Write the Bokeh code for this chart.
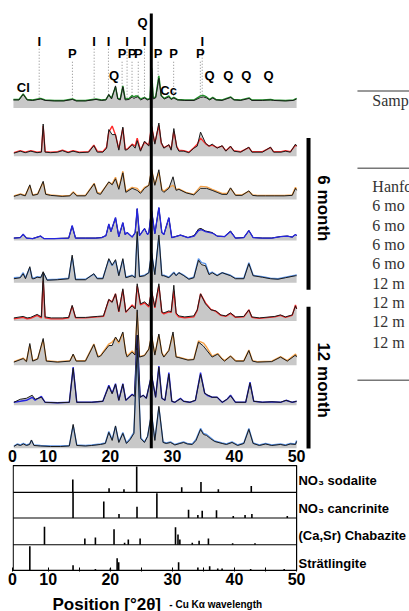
import math
from bokeh.plotting import figure
from bokeh.layouts import column
from bokeh.models import Range1d, LinearAxis, FixedTicker
from bokeh.core.properties import value
from bokeh.embed import file_html
from bokeh.resources import INLINE

# ---------------- data ----------------
X_START, X_END = 4.25, 68.18
TICKS = [4.25, 10, 20, 30, 40, 50]
TICK_LABELS = {4.25: "0"}
MINOR = [15, 25, 35, 45]

OFFSETS = [348, 300, 257, 216, 174, 136, 92, 52, 9]
COLORS = ["#22922a", "#ff2a2a", "#f3a14a", "#2525e0", "#5b93e6", "#ff2a2a", "#f3a14a", "#2525e0", "#5b93e6"]

T1_X = [4.4, 5.3, 5.97, 6.6, 7.5, 8.8, 9.5, 11.0, 12.5, 13.9, 14.5, 16.0, 17.7, 18.6, 19.3, 19.76, 20.2, 20.84, 21.2, 21.6, 22.02, 22.4, 23.0, 23.52, 23.8, 24.1, 24.4, 24.9, 25.5, 26.0, 26.4, 26.64, 26.9, 27.3, 27.82, 28.2, 28.7, 29.43, 29.8, 30.23, 30.8, 32.0, 33.5, 34.53, 35.0, 35.5, 36.0, 36.5, 37.0, 38.0, 39.4, 39.9, 41.0, 42.35, 42.8, 44.5, 45.8, 46.3, 48.2, 49.5, 50.0]
T1_K = [8, 8, 13.5, 8, 7.5, 9, 7.5, 7, 7, 8.5, 7, 7, 8.5, 7.5, 8, 13.5, 9, 22, 9, 8, 21, 8, 8.5, 11, 9.5, 10.5, 11, 8, 10, 8, 9, 40, 9, 10, 29.5, 12, 9, 11, 8.5, 10, 8, 7.5, 7.5, 10.5, 11, 10, 8, 10, 8, 7.5, 10.5, 8, 7.5, 9.5, 7.5, 7.5, 8, 7.5, 7, 7.5, 9]
T1_C = [8.5, 8.5, 14, 8.5, 8, 9.5, 8, 7.5, 7.5, 9, 7.5, 7.5, 9, 8, 8.5, 13, 10, 21, 9.5, 9, 22, 9, 9.5, 12.5, 11, 12, 12, 9, 10.5, 8.5, 9.5, 40, 10, 11, 32, 12.5, 9.5, 12, 9, 10.5, 8.5, 8, 8, 12, 12.5, 11, 8.5, 10.5, 8.5, 8, 11, 8.5, 8, 10, 8, 8, 8.5, 8, 7.5, 8, 9.5]

T2_X = [4.47, 5.5, 6.3, 7.2, 8.2, 8.9, 9.19, 9.5, 10.4, 11.5, 12.3, 13.2, 14.0, 15.0, 16.5, 17.35, 17.9, 18.8, 19.4, 19.76, 20.3, 20.84, 21.37, 22.02, 22.4, 22.72, 23.52, 24.0, 24.33, 24.86, 25.51, 26.21, 26.64, 27.17, 27.82, 28.2, 28.62, 29.43, 29.8, 30.23, 30.7, 31.04, 31.84, 32.65, 33.45, 34.0, 34.53, 35.33, 35.9, 36.41, 37.21, 38.02, 38.6, 39.36, 39.9, 41.0, 42.31, 42.8, 44.5, 45.8, 46.3, 47.5, 48.21, 49.0, 49.82, 50.0]
T2_K = [3, 5, 3.5, 5, 3.5, 4, 32, 4, 3.5, 4, 5.5, 3.5, 5, 3.5, 4, 10.5, 4, 4, 8, 26.5, 21.5, 21.5, 6, 29, 6, 6.5, 11.5, 8, 15.5, 5, 15, 10, 30, 12, 33, 14, 8, 11.5, 6, 27.5, 9, 5, 5, 3.5, 8, 10, 24, 13, 10, 12, 8, 10.5, 5, 10, 5, 4, 9, 4, 4, 9, 4, 4, 5, 4, 12, 10]
T2_C = [3.5, 5.5, 4, 5.5, 4, 4.5, 30, 4.5, 4, 4.5, 6, 4, 5.5, 4, 4.5, 11, 5, 4.5, 9, 24, 30, 21, 7, 28, 7, 7, 12, 10, 18, 6, 14, 11, 30, 13, 31, 13, 8.5, 11, 7, 25, 9.5, 6, 5.5, 4, 8.5, 12, 18, 12.5, 10, 11, 8.5, 10, 5.5, 9.5, 5.5, 4.5, 8.5, 4.5, 4.5, 8.5, 4.5, 4.5, 5.5, 4.5, 11, 10]

T3_X = [4.47, 5.54, 6.3, 7.04, 7.5, 8.3, 9.19, 9.6, 10.37, 12.25, 13.5, 14.02, 14.6, 16.0, 17.4, 17.9, 18.42, 19.76, 20.3, 20.84, 21.37, 22.02, 22.5, 23.52, 24.33, 24.86, 25.51, 26.21, 26.64, 27.17, 27.82, 28.3, 28.62, 29.43, 30.1, 30.6, 31.04, 32.2, 33.45, 34.53, 35.5, 36.4, 37.2, 38.0, 38.8, 39.36, 40.16, 41.2, 42.31, 42.9, 43.65, 45.0, 46.5, 48.0, 49.3, 49.82, 50.0]
T3_K = [3, 5, 3.5, 14.5, 4, 5, 18, 5, 4, 3, 3.5, 7, 3.5, 3.5, 15.5, 6, 5, 17.5, 14.5, 20.5, 10, 26.5, 7, 11, 9, 6, 11, 14, 30, 14, 29.5, 9, 7, 11, 22.5, 9, 10, 6.5, 4.5, 11, 11, 9, 7, 5, 5, 11.5, 4, 4, 8.5, 4, 3.5, 3.5, 3.5, 3.5, 4, 11, 9]
T3_C = [3.5, 5.5, 4, 13.5, 4.5, 5.5, 17, 5.5, 4.5, 3.5, 4, 7.5, 4, 4, 16, 7, 6, 17, 15.5, 22, 11, 28, 8, 12, 11, 7, 12, 14, 30, 14.5, 27, 10, 8, 12, 14, 10, 10.5, 7, 5, 13, 12.5, 10, 8, 6, 6, 11, 4.5, 4.5, 8, 4.5, 4, 4, 4, 4, 4.5, 12, 10]

T4_X = [4.47, 5.5, 5.97, 6.5, 7.5, 8.76, 9.3, 11.0, 13.3, 13.86, 14.4, 16.0, 17.6, 18.6, 19.3, 19.76, 20.1, 20.84, 21.37, 22.02, 22.4, 22.72, 23.52, 24.0, 24.33, 24.7, 25.51, 26.0, 26.21, 26.64, 27.17, 27.82, 28.3, 28.62, 29.43, 29.9, 30.5, 31.3, 32.5, 33.5, 34.2, 34.6, 35.33, 36.41, 37.21, 38.4, 39.36, 40.16, 41.5, 42.31, 43.0, 44.5, 46.0, 47.4, 48.5, 49.3, 49.82, 50.0]
T4_K = [2.5, 3, 6, 2.5, 2, 4.5, 2, 2, 2.5, 14.5, 2.5, 2.5, 2.5, 3, 5, 16, 9, 22.5, 4, 17.5, 6, 8, 3.5, 8, 31.5, 5, 12, 6, 8, 30, 7, 32.5, 8, 6, 22.5, 3, 4, 5.5, 3, 5, 11.5, 12, 9.5, 8, 4.5, 4, 9.5, 2.5, 3, 10, 3, 2.5, 2.5, 4, 4.5, 3.5, 6, 5]
T4_C = [2.5, 3, 6.5, 2.5, 2, 4.5, 2, 2, 2.5, 15, 2.5, 2.5, 2.5, 3, 5, 16.5, 9, 23, 4, 18, 6, 8, 3.5, 8, 32, 5, 12, 6, 8, 30, 7, 33, 8, 6, 23, 3, 4, 5.5, 3, 4.5, 10, 11, 9, 7.5, 4.5, 4, 9, 2.5, 3, 10, 3, 2.5, 2.5, 4, 4.5, 3.5, 6, 5]

T5_X = [4.47, 5.5, 5.97, 6.34, 7.04, 7.42, 7.69, 8.22, 8.8, 9.19, 9.83, 11.5, 13.3, 13.86, 14.4, 16.0, 17.35, 17.9, 18.8, 19.76, 20.3, 20.84, 21.37, 22.02, 22.5, 23.52, 24.0, 24.33, 24.7, 25.51, 26.21, 26.64, 27.17, 27.82, 28.3, 28.62, 29.43, 30.23, 30.6, 31.04, 31.84, 32.65, 33.45, 34.2, 34.7, 35.33, 35.9, 36.41, 37.21, 38.02, 39.36, 40.16, 41.5, 42.31, 43.0, 44.5, 45.8, 47.0, 48.2, 49.82, 50.0]
T5_K = [4, 5, 9, 4, 16, 4, 4, 5.5, 5, 11, 2.5, 3, 4, 27.5, 3, 3, 9, 4, 4, 24, 17.5, 23, 7, 24, 5, 7, 5, 51, 6, 7, 10, 30, 8, 47.5, 7, 7, 5, 10, 7, 10, 7, 3.5, 5, 22.5, 18, 17, 8, 10, 7, 10, 7, 4, 4, 19, 7, 5.5, 4, 3.5, 5, 7, 7]
T5_C = [5, 5.5, 10, 5, 15, 5, 4.5, 6, 5.5, 10, 3, 3.5, 4.5, 26, 3.5, 3.5, 8.5, 4.5, 4.5, 23, 17, 22, 7.5, 23, 5.5, 7.5, 5.5, 50, 6.5, 7.5, 10, 30, 8.5, 46, 7.5, 7.5, 5.5, 10.5, 7.5, 10, 7.5, 4, 5.5, 24, 20, 19, 9, 10.5, 7.5, 10, 7.5, 4.5, 4.5, 20, 7.5, 6, 4.5, 4, 5.5, 7.5, 8]

T6_X = [4.47, 5.97, 6.6, 7.15, 8.22, 8.9, 9.19, 9.5, 10.5, 12.25, 13.3, 13.86, 14.4, 16.0, 17.9, 18.9, 19.76, 20.3, 20.84, 21.37, 22.02, 22.5, 23.52, 24.0, 24.33, 24.86, 25.51, 26.21, 26.64, 27.17, 27.82, 28.3, 28.62, 29.43, 29.8, 30.23, 30.6, 31.04, 32.0, 33.45, 34.0, 34.53, 35.33, 36.2, 37.0, 37.8, 38.6, 39.36, 40.16, 41.5, 42.31, 42.8, 44.0, 46.5, 47.4, 48.2, 49.3, 49.82, 50.0]
T6_K = [3, 4.5, 3, 3.5, 6.5, 4, 48, 4, 3, 3, 3.5, 15.5, 3.5, 3.5, 4.5, 5, 21.5, 18.5, 27, 9.5, 32, 9, 15, 12, 37, 17, 19, 15, 30, 14, 37, 9, 8, 10, 9, 35.5, 8, 5, 4, 5, 11, 27, 17, 11, 10, 6, 5, 8, 4, 4.5, 11, 4, 3, 4.5, 6, 4, 6, 15, 12]
T6_C = [2, 3.5, 2, 2.5, 5.5, 3, 40, 3, 2, 2, 3, 15, 3, 3, 4, 4.5, 21, 19, 27, 9, 31, 8.5, 16, 12.5, 35, 16, 18, 14, 30, 13, 35, 8.5, 7, 9, 8.5, 30, 7, 4, 3, 4, 10.5, 27, 18, 11.5, 9.5, 5.5, 4.5, 7.5, 3.5, 4, 11, 3.5, 2.5, 4, 5.5, 3.5, 5.5, 16, 12]

T7_X = [4.47, 5.97, 6.5, 7.04, 7.5, 8.3, 9.19, 9.7, 11.5, 13.5, 14.02, 14.5, 16.0, 17.35, 18.0, 18.42, 19.76, 20.3, 20.84, 21.37, 22.02, 22.5, 22.72, 23.52, 24.0, 24.33, 24.7, 25.51, 26.21, 26.64, 27.17, 27.82, 28.3, 28.62, 29.43, 30.1, 30.6, 31.04, 32.5, 33.45, 34.2, 35.0, 35.5, 36.4, 37.3, 38.0, 38.4, 39.36, 40.16, 41.5, 42.31, 42.9, 43.65, 46.0, 47.41, 48.5, 49.82, 50.0]
T7_K = [3, 6.5, 3.5, 21.5, 4, 6, 26.5, 4, 3, 4, 11, 4, 4, 20.5, 8, 9, 19.5, 19.5, 28, 23, 33, 12, 8, 13, 10, 55, 8, 9.5, 16, 30, 10, 31, 12, 8, 14.5, 33, 8, 7.5, 5, 5.5, 23, 19, 15, 8, 11, 6, 4, 9, 4, 4, 14.5, 4, 3, 3.5, 8, 4, 10, 8]
T7_C = [3.5, 7, 4, 20, 4.5, 6.5, 25, 4.5, 3.5, 4.5, 10.5, 4.5, 4.5, 21, 9, 9.5, 21, 23, 27, 22, 32, 12.5, 9, 14, 10.5, 53, 8.5, 10, 16, 30, 10.5, 30, 12.5, 8.5, 15, 31, 8.5, 8, 5.5, 6, 24, 22, 18, 9, 11.5, 6.5, 4.5, 9, 4.5, 4.5, 15, 4.5, 3.5, 4, 8.5, 4.5, 11, 9]

T8_X = [4.47, 5.5, 6.5, 7.42, 7.9, 8.9, 9.5, 11.5, 13.4, 14.02, 14.6, 17.0, 18.8, 19.76, 20.3, 20.84, 21.37, 22.02, 22.5, 23.52, 23.9, 24.33, 24.8, 25.3, 25.8, 26.64, 27.3, 27.82, 28.3, 28.8, 29.43, 29.9, 30.4, 31.3, 31.8, 32.8, 33.7, 34.53, 35.2, 35.6, 36.4, 37.21, 38.02, 38.8, 39.36, 40.16, 41.8, 42.5, 43.1, 44.5, 46.0, 47.4, 48.3, 49.3, 50.0]
T8_K = [3, 6, 7, 10, 6, 8, 3, 2.5, 3, 37, 3, 3, 4, 19, 11.5, 21, 5, 21, 5, 10.5, 9, 70, 8, 10, 7, 30, 8, 38, 7, 5, 31, 4, 3, 6.5, 4, 3, 5, 31, 12, 10.5, 8, 8, 3, 6, 9.5, 3, 3, 22, 4, 3, 3.5, 3, 5, 3, 4]
T8_C = [3, 4, 5, 8, 5, 9, 3, 2.5, 3, 38, 3, 3, 4, 20, 12, 21.5, 5, 21.5, 5, 11, 9, 70, 8, 10, 7, 30, 8, 39, 7, 5, 32.5, 4, 3, 7, 4, 3, 5, 32.5, 12, 10, 8, 8, 3, 6, 10, 3, 3, 23, 4, 3, 3.5, 3, 5, 3, 4]

T9_X = [4.47, 5.0, 5.54, 6.0, 6.5, 7.0, 7.3, 7.7, 8.76, 10.37, 12.0, 13.4, 14.02, 14.6, 16.0, 17.0, 18.42, 19.2, 19.76, 20.3, 20.84, 21.37, 22.02, 22.6, 23.2, 23.8, 24.33, 24.9, 25.5, 26.0, 26.64, 27.17, 27.82, 28.5, 29.0, 29.7, 30.4, 31.2, 31.8, 32.4, 33.2, 33.8, 34.53, 35.0, 35.5, 36.1, 36.8, 38.0, 38.7, 39.6, 40.5, 41.5, 42.31, 43.0, 44.0, 45.0, 46.0, 47.4, 48.2, 49.0, 49.82, 50.0]
T9_K = [2, 4, 3, 4.5, 3, 4, 8.5, 3, 2.5, 2, 2, 2.5, 24, 3, 2.5, 3, 4, 5, 16, 8, 22.5, 6, 15, 5, 9, 15, 100, 10, 6, 12, 35, 8, 42, 6, 5, 6, 3.5, 5, 6, 4.5, 4, 8, 19, 14, 13, 10, 7, 5, 4, 6, 3, 5, 19, 5, 3, 4.5, 3, 4, 3, 4.5, 4, 7]
T9_C = [2.5, 4.5, 3.5, 5, 3.5, 4.5, 8, 3.5, 3, 2.5, 2.5, 3, 23, 3.5, 3, 3.5, 4.5, 5.5, 17, 9, 22, 6.5, 16, 5.5, 10, 16, 98, 10.5, 6.5, 12, 35, 8.5, 41, 6.5, 5.5, 6.5, 4, 5.5, 6.5, 5, 4.5, 9, 20, 15, 14, 11, 7.5, 5.5, 4.5, 6.5, 3.5, 5.5, 20, 5.5, 3.5, 5, 3.5, 4.5, 3.5, 5, 4.5, 8]

TRACE_X = [T1_X, T2_X, T3_X, T4_X, T5_X, T6_X, T7_X, T8_X, T9_X]
TRACE_K = [T1_K, T2_K, T3_K, T4_K, T5_K, T6_K, T7_K, T8_K, T9_K]
TRACE_C = [T1_C, T2_C, T3_C, T4_C, T5_C, T6_C, T7_C, T8_C, T9_C]

QUARTZ_POS = 26.6
QUARTZ_Y = [9, 442]

I_POS = [8.55, 17.4, 19.7, 22.7, 25.5, 34.8]
P_POS = [13.9, 21.9, 23.5, 24.5, 27.7, 30.2, 34.5]
Q_POS = [20.6, 36.0, 39.0, 41.9, 45.5]
Q_TOP = 25.2
CC_POS = 29.4
CL_POS = 6.0

MONTH_LABELS = ["6 month", "12 month"]
MONTH_BAR = [(318, 167), (150, 0)]
MONTH_TEXT_Y = [248, 77]

TABLE_HEAD = "Samp"
TABLE_ROWS = ["Hanfo", "6 mo", "6 mo", "6 mo", "6 mo", "12 m", "12 m", "12 m", "12 m"]
TABLE_ROW_Y = [270, 251, 231, 212, 193, 173, 154, 135, 115]
TABLE_RULE_Y = [365, 288, 77]

SOD_X = [13.96, 19.8, 22.2, 24.25, 31.5, 34.6, 37.4, 42.7]
SOD_H = [12.5, 4, 3, 25, 5, 10, 3, 6]
CAN_X = [14.0, 18.95, 21.4, 24.3, 27.5, 32.6, 34.1, 34.8, 37.1, 39.8, 41.7, 42.8, 48.5]
CAN_H = [25, 16, 4, 11, 24, 8, 3, 7, 7.5, 2, 3, 4, 2]
CHA_X = [9.4, 15.9, 17.6, 20.6, 22.3, 22.9, 24.8, 30.5, 30.9, 31.2, 33.2, 34.3, 35.8, 39.7, 43.3]
CHA_H = [17.5, 6, 7, 15, 2, 5, 6, 17, 10, 5, 2, 4, 6, 1.5, 1.5]
STR_X = [7.04, 14.0, 17.6, 20.0, 21.1, 21.35, 31.0, 34.1, 36.0, 37.3, 38.0, 42.6, 48.0]
STR_H = [23.5, 5, 1.5, 2, 12, 8, 8, 3, 4, 2, 2, 1.5, 1.5]
REF_NAMES = ["NO\u2083 sodalite", "NO\u2083 cancrinite", "(Ca,Sr) Chabazite", "Str\u00e4tlingite"]
REF_BASE = [76, 51, 25, 0]
REF_LABEL_Y = [87, 60, 34, 7]

TITLE_MAIN = "Position [\u00b02\u03b8]"
TITLE_SUB = "- Cu K\u03b1 wavelength"

GRAY = "#c8c8c8"
SANS = "Liberation Sans"


def base_fig(h, y0, y1):
    return figure(width=409, height=h, x_range=Range1d(X_START, X_END), y_range=Range1d(y0, y1),
                  x_axis_type=None, y_axis_type=None, output_backend="svg", toolbar_location=None,
                  title=None, min_border_left=12, min_border_right=0, min_border_top=0, min_border_bottom=0,
                  outline_line_color=None, background_fill_color="white", border_fill_color="white")


def style_axis(a, size, standoff):
    a.axis_line_color = None
    a.minor_tick_line_color = None
    a.major_tick_out = 0
    a.major_label_standoff = standoff
    a.major_label_text_font = SANS
    a.major_label_text_font_style = "bold"
    a.major_label_text_font_size = size
    a.major_label_text_color = "black"


# ---------------- top figure ----------------
top = base_fig(464, 9, 455)

ax = LinearAxis(ticker=FixedTicker(ticks=TICKS, minor_ticks=[]), major_label_overrides=TICK_LABELS)
style_axis(ax, "16px", 1)
ax.major_tick_in = 0
ax.major_tick_line_color = None
top.add_layout(ax, "below")

top.segment(x0=I_POS, y0=[407] * len(I_POS), x1=I_POS, y1=[356] * len(I_POS), line_color="#888888", line_width=1, line_dash="1 2")
top.segment(x0=P_POS, y0=[394] * len(P_POS), x1=P_POS, y1=[356] * len(P_POS), line_color="#888888", line_width=1, line_dash="1 2")

for i in range(9):
    xs = TRACE_X[i]
    off = OFFSETS[i]
    yk = [off + h for h in TRACE_K[i]]
    yc = [off + h for h in TRACE_C[i]]
    top.varea(x=xs, y1=[off] * len(xs), y2=yk, fill_color=GRAY)
    if i == 3:
        top.line(xs, yk, line_color="black", line_width=1.0)
        top.line(xs, yc, line_color=COLORS[i], line_width=1.3)
    else:
        top.line(xs, yc, line_color=COLORS[i], line_width=1.4)
        top.line(xs, yk, line_color="#1a1a1a", line_width=1.0)

top.segment(x0=[QUARTZ_POS], y0=[QUARTZ_Y[0]], x1=[QUARTZ_POS], y1=[QUARTZ_Y[1]], line_color="black", line_width=3)

lab_kw = dict(text_font=value(SANS), text_font_style="bold", text_font_size="13px",
              text_align="center", text_baseline="middle", text_color="black")
top.text(x=I_POS, y=[414] * len(I_POS), text=["I"] * len(I_POS), **lab_kw)
top.text(x=P_POS, y=[402] * len(P_POS), text=["P"] * len(P_POS), **lab_kw)
top.text(x=Q_POS, y=[380] * len(Q_POS), text=["Q"] * len(Q_POS), **lab_kw)
top.text(x=[Q_TOP], y=[433], text=["Q"], **lab_kw)
top.text(x=[CC_POS], y=[365], text=["Cc"], **lab_kw)
top.text(x=[CL_POS], y=[368], text=["Cl"], **lab_kw)

XBAR = 51.92
for (y0, y1), lab, ty in zip(MONTH_BAR, MONTH_LABELS, MONTH_TEXT_Y):
    top.segment(x0=[XBAR], y0=[y0], x1=[XBAR], y1=[y1], line_color="black", line_width=4)
    top.text(x=[54.4], y=[ty], text=[lab], angle=-math.pi / 2, text_font=value(SANS), text_font_style="bold",
             text_font_size="17px", text_align="center", text_baseline="middle", text_color="black")

top.segment(x0=[59.8] * 3, y0=TABLE_RULE_Y, x1=[X_END] * 3, y1=TABLE_RULE_Y, line_color="#777777", line_width=1.5)
top.text(x=[62.2], y=[355], text=[TABLE_HEAD], text_font=value("Liberation Serif"), text_font_size="16px",
         text_align="left", text_baseline="middle", text_color="#333333")
top.text(x=[62.2] * len(TABLE_ROWS), y=TABLE_ROW_Y, text=TABLE_ROWS, text_font=value("Liberation Serif"),
         text_font_size="16px", text_align="left", text_baseline="middle", text_color="#333333")

# ---------------- bottom figure ----------------
bot = base_fig(123, -1, 103)

bx = LinearAxis(ticker=FixedTicker(ticks=TICKS + MINOR, minor_ticks=[]),
                major_label_overrides={**TICK_LABELS, 15: "", 25: "", 35: "", 45: ""})
style_axis(bx, "16px", 1)
bx.major_tick_in = 4
bx.major_tick_line_color = "black"
bot.add_layout(bx, "below")

BOX_L, BOX_R = 4.36, 50.0
bot.quad(left=[BOX_L], right=[BOX_R], bottom=[0], top=[102], fill_color=None, line_color="black", line_width=1.2)
bot.segment(x0=[BOX_L] * 3, y0=REF_BASE[:3], x1=[BOX_R] * 3, y1=REF_BASE[:3], line_color="black", line_width=1.2)

for xs, hs, b in zip([SOD_X, CAN_X, CHA_X, STR_X], [SOD_H, CAN_H, CHA_H, STR_H], REF_BASE):
    bot.segment(x0=xs, y0=[b] * len(xs), x1=xs, y1=[b + h for h in hs], line_color="black", line_width=1.6)

bot.text(x=[50.3] * 4, y=REF_LABEL_Y, text=REF_NAMES, text_font=value(SANS), text_font_style="bold",
         text_font_size="13px", text_align="left", text_baseline="middle", text_color="black")

# ---------------- axis title strip ----------------
ttl = base_fig(24, 0, 24)
ttl.text(x=[10.69], y=[7], text=[TITLE_MAIN], text_font=value(SANS), text_font_style="bold",
         text_font_size="17px", text_align="left", text_baseline="alphabetic", text_color="black")
ttl.text(x=[29.5], y=[7], text=[TITLE_SUB], text_font=value(SANS), text_font_style="bold",
         text_font_size="10px", text_align="left", text_baseline="alphabetic", text_color="black")

layout = column(top, bot, ttl, spacing=0)
open("out.html", "w").write(file_html(layout, INLINE))
